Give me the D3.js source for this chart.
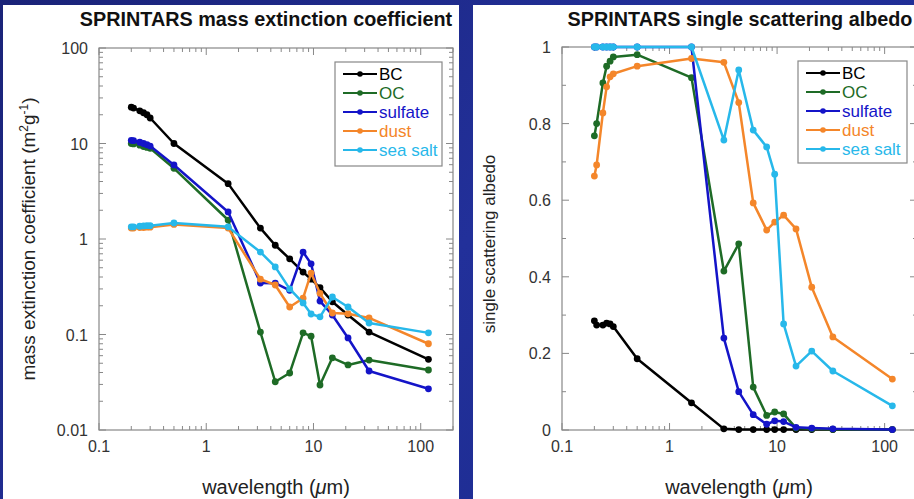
<!DOCTYPE html>
<html>
<head>
<meta charset="utf-8">
<script src="https://cdn.jsdelivr.net/npm/d3@7"></script>
<style>
  html, body { margin: 0; padding: 0; }
  body { width: 914px; height: 499px; overflow: hidden;
         background: linear-gradient(135deg, #1a2378 0%, #22309a 50%, #1a2a8c 100%);
         font-family: "Liberation Sans", Arial, Helvetica, sans-serif; }
  svg { display: block; }
  .tick-label { font-size: 16px; fill: #333; }
</style>
</head>
<body>
<svg id="chart" width="914" height="499"></svg>
<script>
// wavelength bands (um)
const wavelengths = [0.2, 0.21, 0.24, 0.26, 0.28, 0.3, 0.5, 1.6, 3.2, 4.4, 6, 8, 9.5, 11.5, 15, 21, 33, 118];
const species = ['BC', 'OC', 'sulfate', 'dust', 'sea salt'];
const colors = ['#000000', '#1e6b26', '#1414c8', '#f4862a', '#27b8ea'];

// mass extinction coefficient (m2/g)
const extBC = [24, 23.5, 22, 21, 20, 18.5, 10, 3.8, 1.3, 0.86, 0.62, 0.45, 0.38, 0.31, 0.22, 0.16, 0.106, 0.055];
const extOC = [10, 9.9, 9.6, 9.3, 9.1, 8.9, 5.5, 1.58, 0.106, 0.032, 0.0395, 0.104, 0.096, 0.0296, 0.057, 0.048, 0.054, 0.0425];
const extSulfate = [10.8, 10.7, 10.3, 10, 9.7, 9.4, 5.96, 1.92, 0.346, 0.345, 0.29, 0.73, 0.55, 0.224, 0.16, 0.092, 0.0415, 0.027];
const extDust = [1.3, 1.3, 1.32, 1.32, 1.33, 1.33, 1.42, 1.3, 0.38, 0.33, 0.194, 0.24, 0.44, 0.27, 0.168, 0.165, 0.149, 0.08];
const extSeaSalt = [1.34, 1.34, 1.36, 1.37, 1.38, 1.38, 1.47, 1.34, 0.73, 0.51, 0.3, 0.214, 0.164, 0.153, 0.247, 0.194, 0.132, 0.104];

// single scattering albedo
const ssaBC = [0.285, 0.274, 0.274, 0.279, 0.277, 0.27, 0.186, 0.071, 0.003, 0.001, 0.001, 0.001, 0.001, 0.001, 0.001, 0.001, 0.001, 0.001];
const ssaOC = [0.768, 0.80, 0.906, 0.95, 0.963, 0.974, 0.98, 0.92, 0.415, 0.486, 0.112, 0.038, 0.047, 0.042, 0.005, 0.003, 0.002, 0.001];
const ssaSulfate = [1, 1, 1, 1, 1, 1, 1, 1, 0.24, 0.10, 0.04, 0.015, 0.024, 0.022, 0.007, 0.005, 0.003, 0.001];
const ssaDust = [0.663, 0.692, 0.828, 0.896, 0.922, 0.93, 0.95, 0.97, 0.96, 0.855, 0.593, 0.522, 0.543, 0.561, 0.525, 0.373, 0.243, 0.133];
const ssaSeaSalt = [1, 1, 1, 1, 1, 1, 1, 1, 0.757, 0.94, 0.783, 0.739, 0.668, 0.277, 0.167, 0.206, 0.154, 0.063];

const xTicks = [0.1, 1, 10, 100];
const extTicks = [0.01, 0.1, 1, 10, 100];
const ssaTicks = [0, 0.2, 0.4, 0.6, 0.8, 1];

const svg = d3.select('#chart');

function drawPanel(cfg) {
    // white slide panel
    svg.append('rect')
        .attr('x', cfg.panel[0]).attr('y', cfg.panel[1])
        .attr('width', cfg.panel[2]).attr('height', cfg.panel[3])
        .attr('fill', '#fff');

    const g = svg.append('g');
    const x = d3.scaleLog().domain([0.1, 200]).range([cfg.left, cfg.right]);
    const y = cfg.y;
    const [y0, y1] = y.range();

    // frame
    g.append('rect')
        .attr('x', cfg.left).attr('y', y1)
        .attr('width', cfg.right - cfg.left).attr('height', y0 - y1)
        .attr('fill', 'none').attr('stroke', '#888').attr('stroke-width', 1.2);

    // x ticks (log minor), inward, top and bottom
    const xMinor = [];
    for (let d = 0.1; d < 200; d *= 10) {
        for (let k = 1; k < 10; k++) if (d * k <= 200) xMinor.push(d * k);
    }
    xMinor.forEach(v => {
        const major = xTicks.includes(+v.toPrecision(3));
        const len = major ? 7 : 4;
        g.append('line').attr('x1', x(v)).attr('x2', x(v))
            .attr('y1', y0).attr('y2', y0 - len).attr('stroke', '#888');
        g.append('line').attr('x1', x(v)).attr('x2', x(v))
            .attr('y1', y1).attr('y2', y1 + len).attr('stroke', '#888');
    });
    xTicks.forEach(v => {
        g.append('text').attr('class', 'tick-label')
            .attr('x', x(v)).attr('y', y0 + 22)
            .attr('text-anchor', 'middle').text(d3.format('~g')(v));
    });

    // y ticks
    cfg.yMinor.forEach(v => {
        const major = cfg.yTicks.some(t => Math.abs(t - v) < 1e-9);
        const len = major ? 7 : 4;
        g.append('line').attr('x1', cfg.left).attr('x2', cfg.left + len)
            .attr('y1', y(v)).attr('y2', y(v)).attr('stroke', '#888');
        g.append('line').attr('x1', cfg.right).attr('x2', cfg.right - len)
            .attr('y1', y(v)).attr('y2', y(v)).attr('stroke', '#888');
    });
    cfg.yTicks.forEach(v => {
        g.append('text').attr('class', 'tick-label')
            .attr('x', cfg.left - 11).attr('y', y(v) + 6)
            .attr('text-anchor', 'end').text(d3.format('~g')(v));
    });

    // series
    const line = d3.line().x(d => x(d[0])).y(d => y(d[1]));
    cfg.series.forEach((vals, i) => {
        const pts = wavelengths.map((w, j) => [w, vals[j]]);
        g.append('path').datum(pts)
            .attr('d', line).attr('fill', 'none')
            .attr('stroke', colors[i]).attr('stroke-width', 2.5)
            .attr('stroke-linejoin', 'round');
        g.selectAll(null).data(pts).enter().append('circle')
            .attr('cx', d => x(d[0])).attr('cy', d => y(d[1]))
            .attr('r', 3.4).attr('fill', colors[i]);
    });

    // legend
    const lg = g.append('g').attr('transform', `translate(${cfg.legend[0]}, ${cfg.legend[1]})`);
    lg.append('rect').attr('width', cfg.legend[2]).attr('height', cfg.legend[3])
        .attr('fill', '#fff').attr('stroke', '#888').attr('stroke-width', 1.2);
    species.forEach((s, i) => {
        const ly = 12 + i * 19;
        lg.append('line').attr('x1', 8).attr('x2', 42).attr('y1', ly).attr('y2', ly)
            .attr('stroke', colors[i]).attr('stroke-width', 2);
        lg.append('circle').attr('cx', 25).attr('cy', ly).attr('r', 2.8).attr('fill', colors[i]);
        lg.append('text').attr('x', 44).attr('y', ly + 6)
            .attr('font-size', 17).attr('fill', colors[i]).text(s);
    });

    // titles
    svg.append('text').attr('x', cfg.titleX).attr('y', 26)
        .attr('text-anchor', 'middle').attr('font-size', 19.8).attr('font-weight', 'bold')
        .attr('fill', '#111').text(cfg.title);
    const xl = svg.append('text').attr('x', cfg.xLabelX).attr('y', 494)
        .attr('text-anchor', 'middle').attr('font-size', 20).attr('fill', '#222');
    xl.append('tspan').text('wavelength (');
    xl.append('tspan').attr('font-style', 'italic').text('\u03bc');
    xl.append('tspan').text('m)');
    const yl = svg.append('text')
        .attr('transform', `translate(${cfg.yLabelX}, ${cfg.yLabelY}) rotate(-90)`)
        .attr('text-anchor', 'middle').attr('font-size', cfg.yLabelSize).attr('fill', '#222');
    cfg.yLabel(yl);
}

const extMinor = [];
for (let d = 0.01; d < 100; d *= 10) for (let k = 1; k < 10; k++) extMinor.push(+(d * k).toPrecision(3));
extMinor.push(100);
const ssaMinor = d3.range(0, 1.0001, 0.1).map(v => +v.toFixed(2));

drawPanel({
    panel: [3, 5, 456, 494],
    left: 99, right: 453,
    y: d3.scaleLog().domain([0.01, 100]).range([430, 48]),
    yTicks: extTicks, yMinor: extMinor,
    series: [extBC, extOC, extSulfate, extDust, extSeaSalt],
    legend: [335, 62, 107, 104],
    title: 'SPRINTARS mass extinction coefficient', titleX: 266,
    xLabelX: 276,
    yLabelX: 35, yLabelY: 239, yLabelSize: 19,
    yLabel: t => {
        t.append('tspan').text('mass extinction coefficient (m');
        t.append('tspan').attr('baseline-shift', 'super').attr('font-size', 12).text('2');
        t.append('tspan').text('g');
        t.append('tspan').attr('baseline-shift', 'super').attr('font-size', 12).text('-1');
        t.append('tspan').text(')');
    }
});

drawPanel({
    panel: [473, 5, 441, 494],
    left: 562, right: 917,
    y: d3.scaleLinear().domain([0, 1]).range([430, 47]),
    yTicks: ssaTicks, yMinor: ssaMinor,
    series: [ssaBC, ssaOC, ssaSulfate, ssaDust, ssaSeaSalt],
    legend: [798, 61, 109, 102],
    title: 'SPRINTARS single scattering albedo', titleX: 740,
    xLabelX: 739,
    yLabelX: 495, yLabelY: 244, yLabelSize: 17,
    yLabel: t => t.text('single scattering albedo')
});
</script>
</body>
</html>
